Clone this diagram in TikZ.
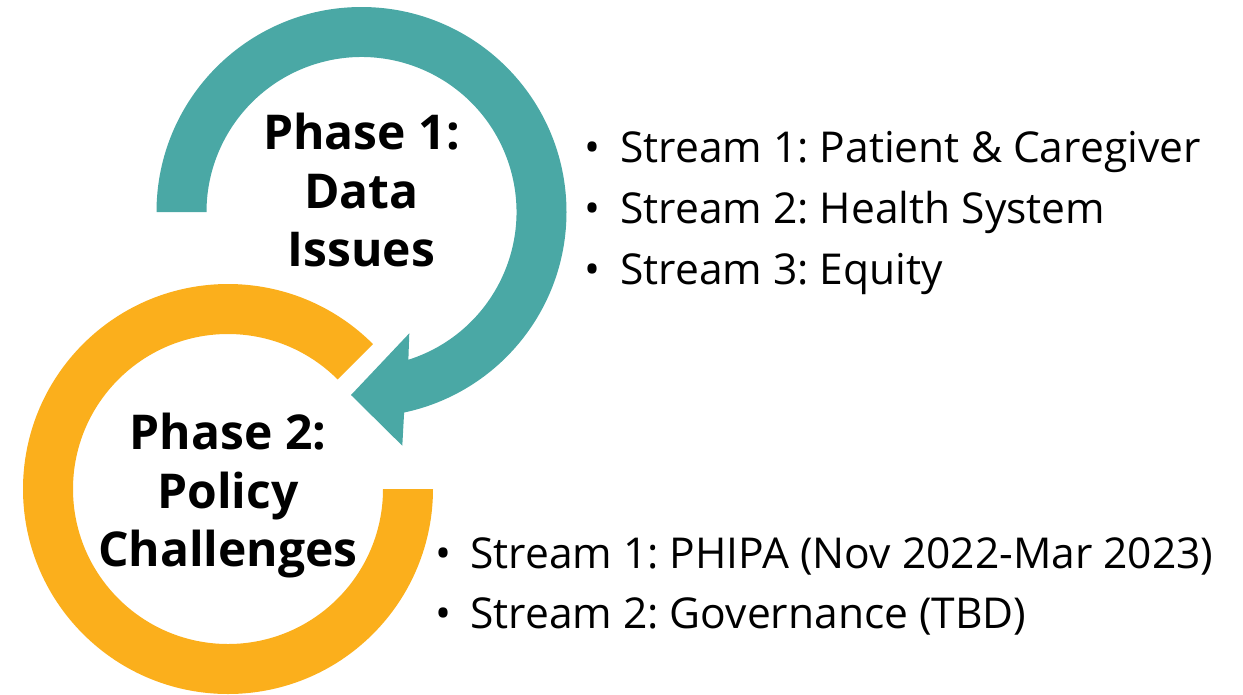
\documentclass[tikz,border=0pt]{standalone}
\usepackage{fontspec}
\setmainfont{Open Sans}
\usetikzlibrary{calc}
\definecolor{phaseteal}{HTML}{4AA8A5}
\definecolor{phaseorange}{HTML}{FBAF1C}
\frenchspacing
\begin{document}
\begin{tikzpicture}[x=0.75pt,y=0.75pt,
  phasetitle/.style={align=center, inner sep=0pt, anchor=north,
    font=\bfseries\fontsize{36}{43.7}\selectfont},
  itemtext/.style={anchor=base west, inner sep=0pt,
    font=\fontsize{31.9}{38}\selectfont},
  itembullet/.style={anchor=base, inner sep=0pt,
    font=\fontsize{31.9}{38}\selectfont}]
\useasboundingbox (0,0) rectangle (1243,-694);
% ring centres
\coordinate (tc) at (361.5,-212);
\coordinate (oc) at (228,-489);
% arrowhead corners of the teal ring
\coordinate (barbout) at (402.3,-445.7);
\coordinate (tip) at (351,-395);
\coordinate (barbin) at (409.3,-333.3);
% Phase 2 ring (open at the upper right)
\fill[phaseorange] ($(oc)+(45:205)$) arc[start angle=45,end angle=360,radius=205]
  -- ($(oc)+(0:155)$) arc[start angle=360,end angle=45,radius=155] -- cycle;
% Phase 1 curved arrow
\fill[phaseteal] ($(tc)+(180:205)$) arc[start angle=180,end angle=-78,radius=205]
  -- (barbout) -- (tip) -- (barbin)
  -- ($(tc)+(-72.4:155)$) arc[start angle=-72.4,end angle=180,radius=155] -- cycle;
% titles
\node[phasetitle] (p1) at (361.5,-113) {Phase 1:\\Data\\Issues};
\node[phasetitle] (p2) at (228,-413) {Phase 2:\\Policy\\Challenges};
% Phase 1 streams
\node[itembullet] (b11) at (592,-162) {•};
\node[itemtext] (s11) at (620,-162) {Stream 1: Patient \& Caregiver};
\node[itembullet] (b12) at (592,-223) {•};
\node[itemtext] (s12) at (620,-223) {Stream 2: Health System};
\node[itembullet] (b13) at (592,-284) {•};
\node[itemtext] (s13) at (620,-284) {Stream 3: Equity};
% Phase 2 streams
\node[itembullet] (b21) at (443,-568) {•};
\node[itemtext] (s21) at (470,-568) {Stream 1: PHIPA (Nov 2022-Mar 2023)};
\node[itembullet] (b22) at (443,-628) {•};
\node[itemtext] (s22) at (470,-628) {Stream 2: Governance (TBD)};
\end{tikzpicture}
\end{document}
